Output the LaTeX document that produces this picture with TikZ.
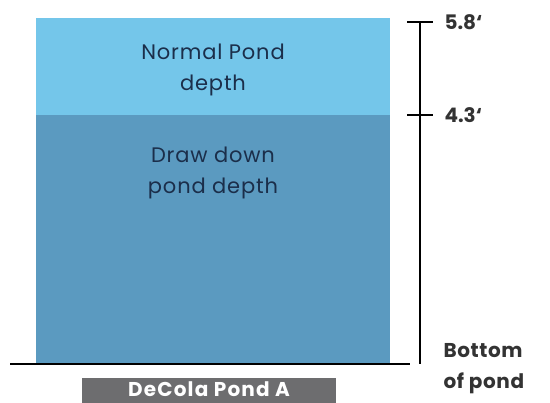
\documentclass[tikz,border=0pt]{standalone}
\usepackage{fontspec}
\setmainfont{Poppins}
\usetikzlibrary{positioning}
\definecolor{shallow}{HTML}{74C6EA}
\definecolor{deep}{HTML}{5B9AC0}
\definecolor{navytext}{HTML}{1B2E4A}
\definecolor{labelgray}{HTML}{333333}
\definecolor{tagbox}{HTML}{6D6D6F}

\begin{document}
\begin{tikzpicture}[
    x=1pt, y=-1pt,
    inlabel/.style={align=center, text=navytext, font=\fontsize{21}{31}\selectfont\addfontfeatures{LetterSpace=4}},
    scalelabel/.style={anchor=west, text=labelgray, font=\fontsize{20}{31}\selectfont\bfseries},
    tick/.style={draw=black, line width=1.6pt}
]
    \useasboundingbox (0,0) rectangle (550,403);
    \def\lft{36}
    \def\rgt{390}
    \def\sx{420}
    % water layers
    \fill[shallow] (\lft,18) rectangle (\rgt,115);
    \fill[deep] (\lft,115) rectangle (\rgt,364);
    \node[inlabel] (normal) at (213,70) {Normal Pond\\depth};
    \node[inlabel] (drawdown) at (213,173) {Draw down\\pond depth};
    % ground line
    \coordinate (gl) at (10,364);
    \coordinate (gr) at (410,364);
    \draw[line width=1.6pt] (gl) -- (gr);
    % depth scale
    \coordinate (s58) at (\sx,22);
    \coordinate (s43) at (\sx,115);
    \coordinate (s0) at (\sx,364);
    \draw[tick] (s58) -- (s0);
    \foreach \name/\txt in {s58/5.8\textquoteleft, s43/4.3\textquoteleft} {
        \draw[tick] ([xshift=-13pt]\name) -- ([xshift=13pt]\name);
        \node[scalelabel] (l\name) at ([xshift=21pt]\name) {\txt};
    }
    \node[scalelabel, align=left, font=\fontsize{20}{31}\selectfont\bfseries\addfontfeatures{LetterSpace=3}] (lbottom) at (440,369) {Bottom\\of pond};
    % name tag
    \fill[tagbox] (82,378) rectangle (336,403);
    \node[text=white, inner sep=0pt, font=\fontsize{20}{24}\selectfont\bfseries\addfontfeatures{LetterSpace=6}, anchor=base] (tag) at (209,397) {DeCola Pond A};
\end{tikzpicture}
\end{document}
